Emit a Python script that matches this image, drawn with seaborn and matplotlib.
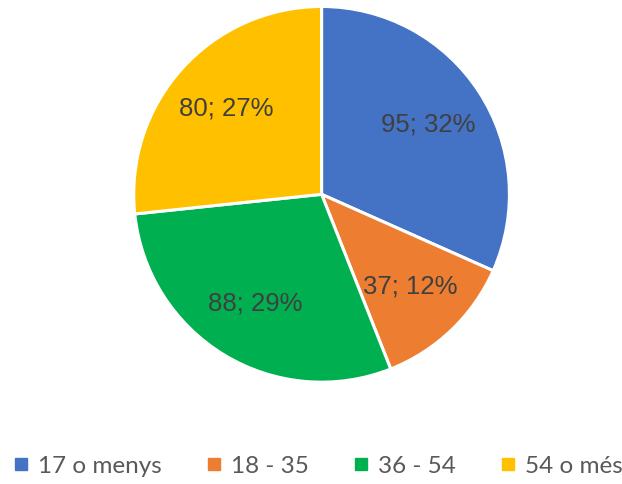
import matplotlib
matplotlib.use("Agg")
import matplotlib.pyplot as plt
from matplotlib.lines import Line2D
import seaborn as sns

# data
categories = ["17 o menys", "18 - 35", "36 - 54", "54 o més"]
counts = [95, 37, 88, 80]
colors = ["#4472C4", "#ED7D31", "#00B050", "#FFC000"]

sns.set_theme(style="white")
plt.rcParams["font.family"] = ["Liberation Sans", "DejaVu Sans"]

fig = plt.figure(figsize=(6.22, 4.84), dpi=100)
ax = fig.add_axes([0.215, 0.21, 0.604, 0.777])

total = sum(counts)


def fmt(pct):
    n = int(round(pct * total / 100.0))
    return f"{n}; {pct:.0f}%"


wedges, texts, autotexts = ax.pie(
    counts, colors=colors, startangle=90, counterclock=False,
    autopct=fmt, pctdistance=0.68, radius=1.0,
    wedgeprops=dict(edgecolor="white", linewidth=2.2),
    textprops=dict(color="#404040", fontsize=18.5),
)
ax.set_xlim(-1.0, 1.0)
ax.set_ylim(-1.0, 1.0)
ax.set_aspect("equal")
ax.axis("off")

handles = [Line2D([], [], marker="s", linestyle="", markersize=8,
                  markerfacecolor=c, markeredgecolor=c) for c in colors]
fig.legend(handles, categories, loc="center", bbox_to_anchor=(0.51, 0.037),
           ncol=4, frameon=False, handletextpad=0.3, columnspacing=1.75,
           handlelength=0.8, prop=dict(family="Lato", size=17.5),
           labelcolor="#595959")

fig.savefig("out.png", dpi=100)
